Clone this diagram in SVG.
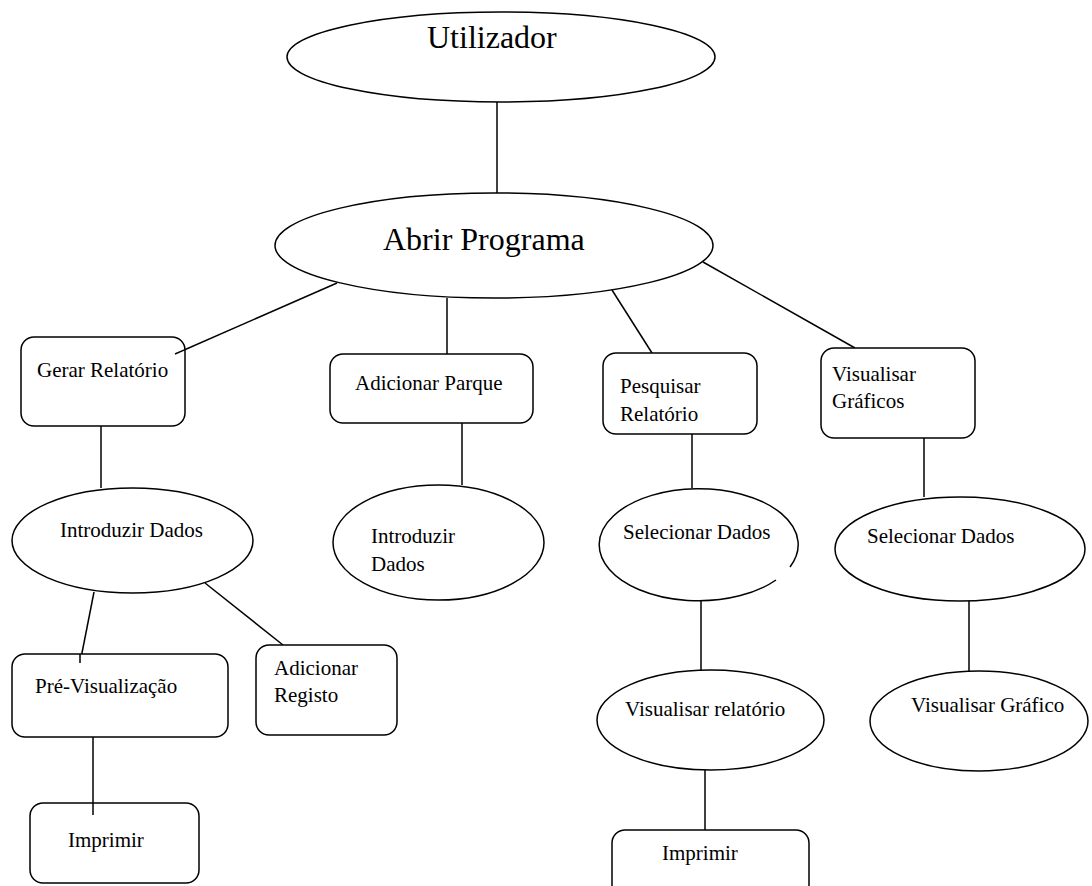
<svg xmlns="http://www.w3.org/2000/svg" width="1092" height="886" viewBox="0 0 1092 886">
<style>
.s{fill:#fff;stroke:#000;stroke-width:1.5}
.c line{stroke:#000;stroke-width:1.5}
text{font-family:"Liberation Serif","Times New Roman",serif;font-size:21px;fill:#000}
.big{font-size:32px}
</style>
<rect width="1092" height="886" fill="#fff"/>
<g class="c" id="connectors">
<line x1="497" y1="102" x2="497" y2="193"/>
<line x1="337" y1="283" x2="175" y2="354"/>
<line x1="447" y1="298" x2="447" y2="354"/>
<line x1="612" y1="290" x2="652" y2="353"/>
<line x1="703" y1="262" x2="855" y2="348"/>
<line x1="101" y1="426" x2="101" y2="488"/>
<line x1="462" y1="423" x2="462" y2="485"/>
<line x1="692" y1="434" x2="692" y2="488"/>
<line x1="924" y1="438" x2="924" y2="497"/>
<line x1="94" y1="592" x2="80" y2="663"/>
<line x1="205" y1="583" x2="283" y2="645"/>
<line x1="701" y1="600" x2="701" y2="670"/>
<line x1="969" y1="601" x2="969" y2="671"/>
<line x1="93" y1="737" x2="93" y2="815"/>
<line x1="705" y1="770" x2="705" y2="830"/>
</g>
<g id="utilizador">
<ellipse class="s" cx="501" cy="57" rx="214" ry="45"/>
<text class="big" x="427" y="48">Utilizador</text>
</g>
<g id="abrir">
<ellipse class="s" cx="494" cy="245.5" rx="219" ry="52.5"/>
<text class="big" x="383" y="250">Abrir Programa</text>
</g>
<g id="gerar">
<rect class="s" x="21" y="337" width="164" height="89" rx="13"/>
<text x="37" y="377">Gerar Relatório</text>
</g>
<g id="adicionar-parque">
<rect class="s" x="330" y="354" width="203" height="69" rx="13"/>
<text x="355" y="390">Adicionar Parque</text>
</g>
<g id="pesquisar">
<rect class="s" x="603" y="353" width="154" height="81" rx="13"/>
<text x="620" y="393">Pesquisar</text>
<text x="620" y="421">Relatório</text>
</g>
<g id="visualisar-graficos">
<rect class="s" x="821" y="348" width="154" height="90" rx="13"/>
<text x="832" y="381">Visualisar</text>
<text x="832" y="408">Gráficos</text>
</g>
<g id="introduzir1">
<ellipse class="s" cx="132.5" cy="540.5" rx="120.5" ry="52.5"/>
<text x="60" y="537">Introduzir Dados</text>
</g>
<g id="introduzir2">
<ellipse class="s" cx="438.5" cy="542.5" rx="105.5" ry="57.5"/>
<text x="371" y="543">Introduzir</text>
<text x="371" y="571">Dados</text>
</g>
<g id="selecionar1">
<path class="s" d="M776,580 A99.5 56 0 1 1 790,567"/>
<text x="623" y="539">Selecionar Dados</text>
</g>
<g id="selecionar2">
<ellipse class="s" cx="960" cy="549" rx="125" ry="52"/>
<text x="867" y="543">Selecionar Dados</text>
</g>
<g id="previsualizacao">
<rect class="s" x="12" y="654" width="216" height="83" rx="13"/>
<text x="35" y="693">Pré-Visualização</text>
</g>
<g id="adicionar-registo">
<rect class="s" x="256" y="645" width="141" height="90" rx="13"/>
<text x="274" y="675">Adicionar</text>
<text x="274" y="702">Registo</text>
</g>
<g id="visualisar-relatorio">
<ellipse class="s" cx="710.5" cy="720" rx="113.5" ry="50"/>
<text x="625" y="716">Visualisar relatório</text>
</g>
<g id="visualisar-grafico">
<ellipse class="s" cx="979" cy="721" rx="109" ry="50"/>
<text x="911" y="712">Visualisar Gráfico</text>
</g>
<g id="imprimir1">
<rect class="s" x="30" y="803" width="169" height="80" rx="13"/>
<text x="68" y="847">Imprimir</text>
</g>
<g id="imprimir2">
<rect class="s" x="612" y="830" width="197" height="70" rx="13"/>
<text x="662" y="860">Imprimir</text>
</g>
<g class="c">
<line x1="93" y1="803" x2="93" y2="815"/>
<line x1="80" y1="654" x2="80" y2="663"/>
<line x1="175" y1="354" x2="185" y2="349.6"/>
</g>
</svg>
